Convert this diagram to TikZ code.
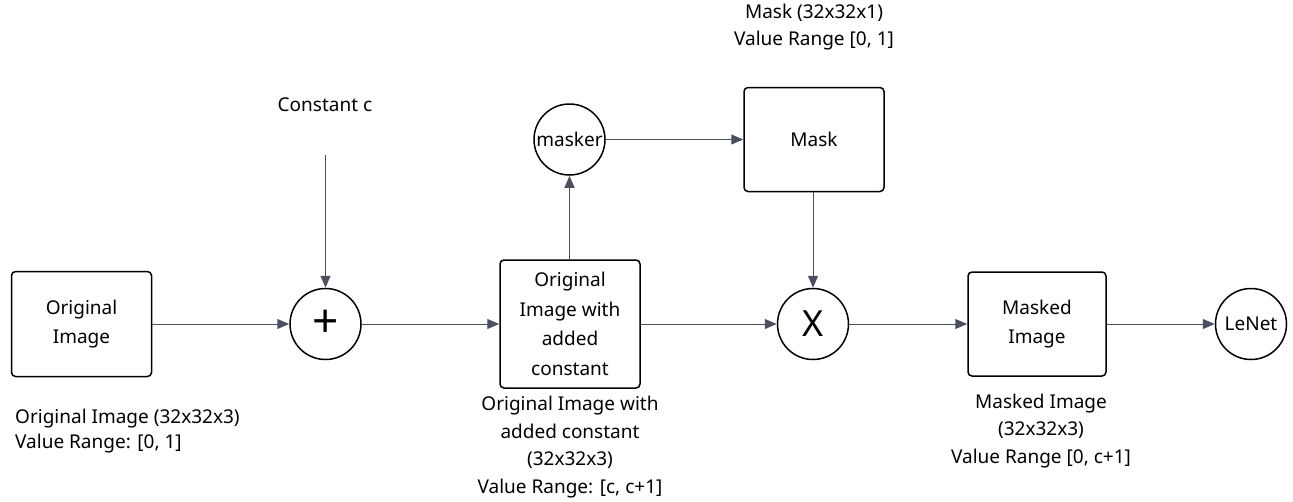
\documentclass[tikz,border=0pt]{standalone}
\usepackage{fontspec}
\setmainfont{Noto Sans}
\usetikzlibrary{arrows.meta}
\definecolor{conncol}{HTML}{4A5060}
\begin{document}
\begin{tikzpicture}[x=1pt,y=-1pt,
  box/.style={draw=black, line width=1.5pt, rounded corners=4pt, minimum width=140pt, align=center, inner sep=2pt, font=\fontsize{19}{29.5}\selectfont},
  circ/.style={draw=black, line width=1.5pt, circle, minimum size=71pt, inner sep=0pt, font=\fontsize{19}{23}\selectfont},
  bigsym/.style={font=\fontsize{36}{40}\selectfont},
  conn/.style={draw=conncol, line width=1pt, -{Triangle[length=12pt,width=10pt]}},
  lbl/.style={font=\fontsize{19}{27.5}\selectfont, align=center, inner sep=0pt}]
\useasboundingbox (0,0) rectangle (1293,501);
\node[box, minimum height=105pt] (orig) at (81.5,324) {Original\\Image};
\node[circ, font=\fontsize{46}{46}\selectfont] (plus) at (325.5,324) {+};
\node[box, minimum height=128pt] (added) at (570,324) {Original\\Image with\\added\\constant};
\node[circ] (masker) at (569.5,139.5) {masker};
\node[box, minimum height=104pt] (mask) at (814,139.5) {Mask};
\node[circ, bigsym] (times) at (813,324) {X};
\node[box, minimum height=104pt, minimum width=138pt] (masked) at (1037,324) {Masked\\Image};
\node[circ] (lenet) at (1251,324) {LeNet};
\node[lbl, anchor=west, align=left, font=\fontsize{19}{25}\selectfont] (l1) at (15,431) {Original Image (32x32x3)\\Value Range: [0, 1]};
\node[lbl] (l2) at (570,447) {Original Image with\\added constant\\(32x32x3)\\Value Range: [c, c+1]};
\node[lbl] (l3) at (1041,431) {Masked Image\\(32x32x3)\\Value Range [0, c+1]};
\node[lbl] (l4) at (814,27) {Mask (32x32x1)\\Value Range [0, 1]};
\node[lbl] (cc) at (325,105) {Constant c};
\coordinate (cin) at (325.5,155);
\draw[conn] (orig) -- (plus);
\draw[conn] (cin) -- (plus);
\draw[conn] (plus) -- (added);
\draw[conn] (added.north -| masker) -- (masker);
\draw[conn] (masker) -- (mask);
\draw[conn] (mask.south -| times) -- (times);
\draw[conn] (added) -- (times);
\draw[conn] (times) -- (masked);
\draw[conn] (masked) -- (lenet);
\end{tikzpicture}
\end{document}
